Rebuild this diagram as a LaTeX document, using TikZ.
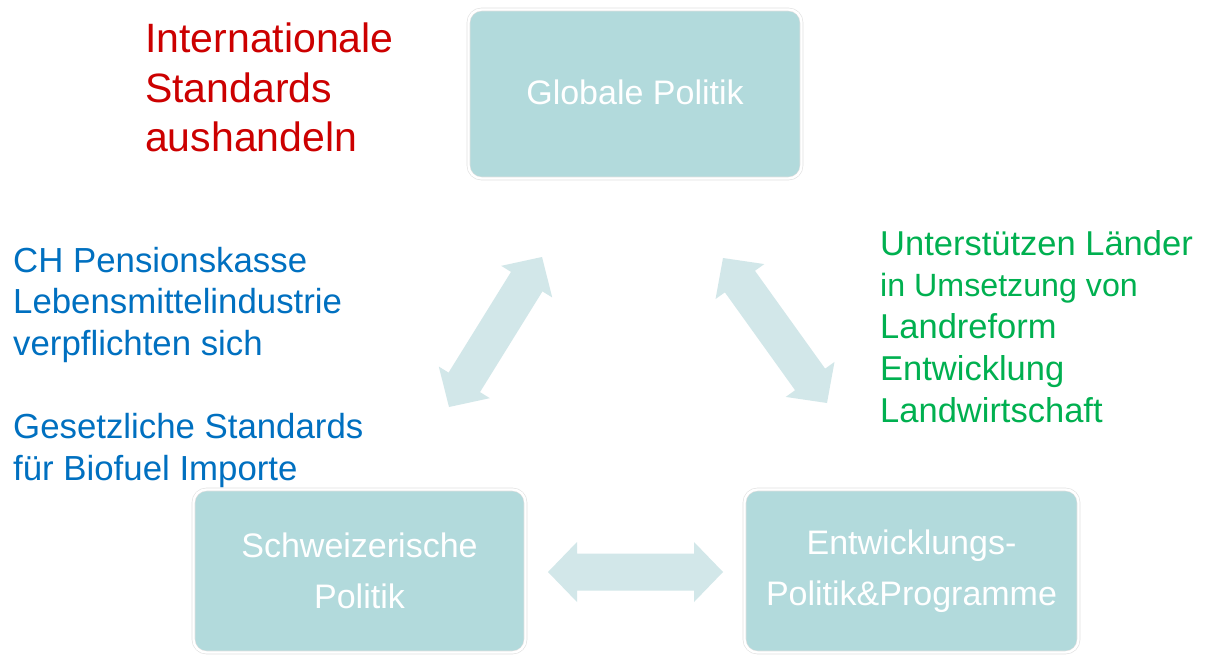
\documentclass[tikz,border=0pt]{standalone}
\usepackage{fontspec}
\setmainfont{Liberation Sans}
\usetikzlibrary{calc}
\definecolor{boxfill}{HTML}{B2DADC}
\definecolor{arrowfill}{HTML}{D2E7E9}
\definecolor{redtxt}{HTML}{CC0000}
\definecolor{bluetxt}{HTML}{0070C0}
\definecolor{greentxt}{HTML}{00B050}
\tikzset{
  policybox/.style={rounded corners=13pt, fill=boxfill, draw=black!12,
    double=white, double distance=2.4pt, line width=0.6pt,
    text=white, align=center, inner sep=0pt,
    font=\fontsize{34}{51}\selectfont},
  redline/.style={anchor=base west, inner sep=0pt, text=redtxt, font=\fontsize{41}{49}\selectfont},
  blueline/.style={anchor=base west, inner sep=0pt, text=bluetxt, font=\fontsize{34.8}{42}\selectfont},
  greenline/.style={anchor=base west, inner sep=0pt, text=greentxt, font=\fontsize{34.5}{42}\selectfont},
  greensmall/.style={greenline, font=\fontsize{32.2}{40}\selectfont},
}
\newcommand\blockarrow[2]{%
  \coordinate (h1) at ($(#1)!29pt!(#2)$);
  \coordinate (h2) at ($(#2)!29pt!(#1)$);
  \fill[arrowfill] (#1) -- ($(h1)!30pt!90:(#2)$) -- ($(h1)!18.5pt!90:(#2)$)
    -- ($(h2)!18.5pt!-90:(#1)$) -- ($(h2)!30pt!-90:(#1)$) -- (#2)
    -- ($(h2)!30pt!90:(#1)$) -- ($(h2)!18.5pt!90:(#1)$)
    -- ($(h1)!18.5pt!-90:(#2)$) -- ($(h1)!30pt!-90:(#2)$) -- cycle;}
\begin{document}
\begin{tikzpicture}[x=1pt,y=-1pt]
\useasboundingbox (0,0) rectangle (1209,655);
\fill[white] (0,0) rectangle (1209,655);

% boxes
\node[policybox, minimum width=333pt, minimum height=169pt, text height=26pt, text depth=4pt] (glob) at (635,94) {Globale Politik};
\node[policybox, minimum width=332pt, minimum height=163pt] (ch) at (359.5,571) {Schweizerische\\Politik};
\node[policybox, minimum width=334pt, minimum height=163pt] (dev) at (911.5,571) {Entwicklungs-\\Politik\&Programme};

% arrows
\coordinate (la) at (542,257);
\coordinate (lb) at (449,407);
\coordinate (ra) at (723,258);
\coordinate (rb) at (827,403);
\coordinate (ha) at (548,572);
\coordinate (hb) at (723,572);
\blockarrow{la}{lb}
\blockarrow{ra}{rb}
\blockarrow{ha}{hb}

% red text
\node[redline] (r1) at (145,53) {Internationale};
\node[redline] (r2) at (145,103) {Standards};
\node[redline] (r3) at (145,152) {aushandeln};

% blue text
\node[blueline] (b1) at (13,272) {CH Pensionskasse};
\node[blueline] (b2) at (13,313) {Lebensmittelindustrie};
\node[blueline] (b3) at (13,355) {verpflichten sich};
\node[blueline] (b4) at (13,438) {Gesetzliche Standards};
\node[blueline] (b5) at (13,480) {für Biofuel Importe};

% green text
\node[greenline] (g1) at (880,255) {Unterstützen Länder};
\node[greensmall] (g2) at (880,296) {in Umsetzung von};
\node[greenline] (g3) at (880,338) {Landreform};
\node[greenline] (g4) at (880,380) {Entwicklung};
\node[greenline] (g5) at (880,422) {Landwirtschaft};
\end{tikzpicture}
\end{document}
